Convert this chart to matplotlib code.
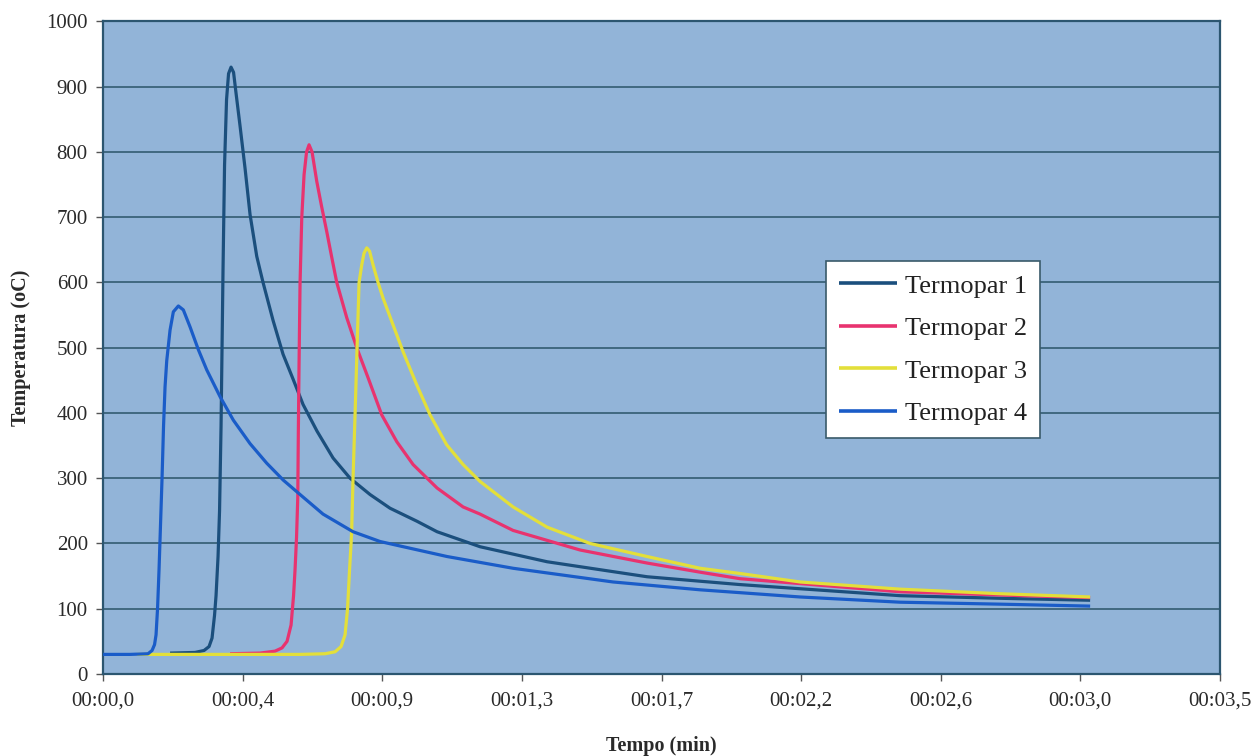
import matplotlib
matplotlib.use("Agg")
import matplotlib.pyplot as plt
import numpy as np

# Thermocouple readings: time (min) and temperature (oC)
t1_time = [0.2100, 0.2883, 0.3165, 0.3322, 0.3416, 0.3494, 0.3541, 0.3604, 0.3651, 0.3698,
           0.3729, 0.3760, 0.3808, 0.3870, 0.3933, 0.4011, 0.4090, 0.4168, 0.4293, 0.4450,
           0.4607, 0.4817, 0.5014, 0.5327, 0.5641, 0.5954, 0.6268, 0.6707, 0.7208, 0.7741,
           0.8367, 0.8994, 0.9840, 1.0467, 1.1815, 1.3914, 1.7048, 1.9962, 2.4977, 2.8110,
           3.0931]
t1_temp = [32, 33, 36, 42, 55, 90, 120, 180, 250, 380,
           500, 620, 780, 880, 920, 930, 922, 890, 840, 775,
           704, 640, 600, 542, 490, 452, 413, 372, 331, 300,
           275, 254, 234, 218, 195, 172, 149, 137, 120, 116,
           113]

t2_time = [0.3980, 0.4920, 0.5390, 0.5610, 0.5766, 0.5892, 0.5970, 0.6017, 0.6064, 0.6102,
           0.6120, 0.6142, 0.6174, 0.6227, 0.6299, 0.6377, 0.6456, 0.6550, 0.6697, 0.6847,
           0.7010, 0.7161, 0.7324, 0.7637, 0.7950, 0.8305, 0.8734, 0.9204, 0.9715, 1.0467,
           1.1282, 1.1815, 1.2849, 1.4948, 1.7048, 1.8709, 1.9962, 2.4977, 2.8110, 3.0931]
t2_temp = [31, 32, 35, 40, 50, 75, 120, 160, 210, 270,
           372, 474, 600, 699, 765, 800, 811, 800, 755, 717,
           678, 640, 600, 546, 500, 454, 397, 356, 321, 285,
           256, 245, 220, 190, 170, 156, 146, 126, 121, 117]

t3_time = [0.1065, 0.6174, 0.6957, 0.7271, 0.7459, 0.7584, 0.7662, 0.7725, 0.7772, 0.7794,
           0.7834, 0.7897, 0.7960, 0.8023, 0.8107, 0.8179, 0.8264, 0.8352, 0.8461, 0.8618,
           0.8775, 0.9088, 0.9401, 0.9831, 1.0248, 1.0771, 1.1282, 1.1815, 1.2849, 1.3914,
           1.5262, 1.7048, 1.8709, 1.9962, 2.1843, 2.4977, 2.8110, 3.0931]
t3_temp = [30, 30, 31, 34, 42, 60, 100, 160, 200, 224,
           300, 397, 500, 600, 627, 645, 653, 648, 627, 600,
           576, 535, 494, 443, 397, 351, 321, 295, 256, 225,
           200, 180, 162, 154, 141, 130, 123, 118]

t4_time = [0.0000, 0.0846, 0.1410, 0.1536, 0.1614, 0.1661, 0.1708, 0.1755, 0.1802, 0.1849,
           0.1896, 0.1943, 0.1996, 0.2100, 0.2203, 0.2360, 0.2516, 0.2726, 0.2987, 0.3250,
           0.3667, 0.4083, 0.4607, 0.5130, 0.5650, 0.6174, 0.6894, 0.7834, 0.8681, 1.0780,
           1.2849, 1.5982, 1.8709, 2.1843, 2.4977, 2.8110, 3.0931]
t4_temp = [30, 30, 31, 36, 45, 60, 100, 160, 230, 300,
           380, 440, 480, 527, 555, 564, 558, 532, 497, 466,
           425, 389, 353, 323, 297, 275, 245, 218, 203, 180,
           162, 141, 129, 118, 110, 107, 104]

series_names = ["Termopar 1", "Termopar 2", "Termopar 3", "Termopar 4"]
series_colors = ["#1b4f7d", "#e8336f", "#e3df3a", "#1a5cc8"]

x_ticks = np.linspace(0, 3.5, 9)
x_tick_labels = ["00:00,0", "00:00,4", "00:00,9", "00:01,3", "00:01,7",
                 "00:02,2", "00:02,6", "00:03,0", "00:03,5"]
y_ticks = np.arange(0, 1001, 100)

serif = ["Liberation Serif", "DejaVu Serif"]
plt.rcParams["font.family"] = serif

fig = plt.figure(figsize=(12.55, 7.56), dpi=100)
ax = fig.add_axes([0.0821, 0.1085, 0.8900, 0.8631])
ax.set_facecolor("#92b4d8")

edge = "#2c5670"
for y in y_ticks[1:-1]:
    ax.axhline(y, color="#2a5468", lw=1.1, zorder=1)

data = [(t1_time, t1_temp), (t2_time, t2_temp), (t3_time, t3_temp), (t4_time, t4_temp)]
for (tx, ty), name, col in zip(data, series_names, series_colors):
    ax.plot(tx, ty, color=col, lw=2.3, label=name, zorder=3,
            solid_joinstyle="round", solid_capstyle="butt")

ax.set_xlim(0, 3.5)
ax.set_ylim(0, 1000)
ax.set_xticks(x_ticks)
ax.set_xticklabels(x_tick_labels)
ax.set_yticks(y_ticks)

for sp in ax.spines.values():
    sp.set_color(edge)
    sp.set_linewidth(1.6)

ax.tick_params(axis="both", direction="out", length=5, width=1, color="#555555",
               labelsize=15, labelcolor="#2a2a2a", pad=6)
ax.tick_params(axis="x", pad=8)

ax.set_xlabel("Tempo (min)", fontsize=14.5, fontweight="bold", color="#2a2a2a", labelpad=18)
ax.set_ylabel("Temperatura (oC)", fontsize=14.5, fontweight="bold", color="#2a2a2a", labelpad=11)

leg = ax.legend(loc="upper left", bbox_to_anchor=(0.647, 0.633), fontsize=19,
                frameon=True, fancybox=False, framealpha=1, borderpad=0.5,
                handlelength=2.2, handletextpad=0.3, labelspacing=0.72,
                borderaxespad=0)
leg.get_frame().set_edgecolor("#3a5a6a")
leg.get_frame().set_linewidth(1.2)
leg.get_frame().set_facecolor("white")
for txt in leg.get_texts():
    txt.set_color("#222222")
for line in leg.get_lines():
    line.set_linewidth(2.6)

fig.savefig("out.png", dpi=100, facecolor="white")
